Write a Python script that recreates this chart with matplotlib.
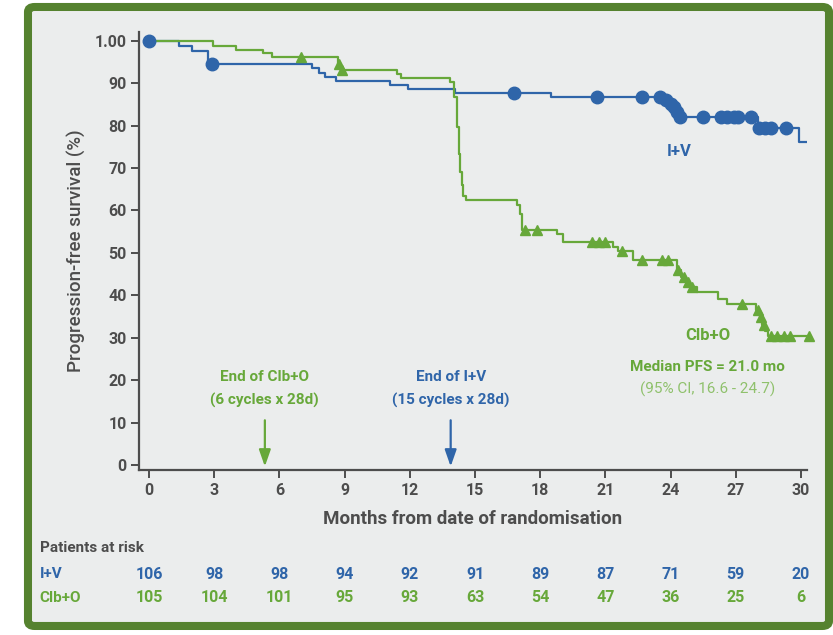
import numpy as np
import matplotlib
matplotlib.use('Agg')
import matplotlib.pyplot as plt
from matplotlib.patches import FancyBboxPatch

# colours
BLUE = '#2f65a9'
GREEN = '#67a83a'
LIGHT_GREEN = '#8fc16c'
GREY = '#4d4d4d'

# I+V (blue) Kaplan-Meier steps
iv_t = [0, 1.4, 2.0, 2.7, 7.5, 7.8, 8.1, 8.6, 11.1, 11.9, 14.1, 18.5, 23.7, 23.95, 24.1, 24.25, 24.4, 28.0, 29.9, 30.6]
iv_s = [100, 98.8, 97.5, 94.4, 93.5, 92.5, 91.5, 90.6, 89.6, 88.6, 87.6, 86.8, 86.0, 85.2, 84.3, 83.2, 82.0, 79.4, 76.1, 76.1]
iv_cens_t = [0, 2.9, 16.8, 20.6, 22.7, 23.5, 23.8, 24.0, 24.15, 24.3, 24.45, 25.5, 26.3, 26.6, 26.9, 27.1, 27.7, 28.05, 28.35, 28.6, 29.3]
iv_cens_s = [100, 94.4, 87.6, 86.8, 86.8, 86.8, 86.0, 85.2, 84.3, 83.2, 82.0, 82.0, 82.0, 82.0, 82.0, 82.0, 82.0, 79.4, 79.4, 79.4, 79.4]

# Clb+O (green) Kaplan-Meier steps
co_t = [0, 2.95, 4.0, 5.25, 5.65, 8.7, 8.85, 11.4, 11.6, 13.85, 14.05, 14.15, 14.25, 14.3, 14.4, 14.45, 14.6,
        16.95, 17.05, 17.15, 18.75, 19.05, 21.35, 21.6, 22.25, 24.3, 24.5, 24.7, 24.9, 25.2, 26.2, 26.6,
        27.95, 28.1, 28.2, 28.35, 28.5, 30.7]
co_s = [100, 98.8, 97.8, 97.0, 96.2, 94.5, 93.1, 92.2, 91.1, 90.2, 86.7, 79.6, 73.3, 69.0, 65.9, 63.5, 62.4,
        61.2, 59.2, 55.3, 54.5, 52.5, 51.4, 50.5, 48.2, 45.9, 44.3, 43.1, 41.9, 40.8, 39.2, 38.0,
        36.5, 34.9, 32.9, 31.5, 30.3, 30.3]
co_cens_t = [7.0, 8.75, 8.9, 17.3, 17.85, 20.4, 20.7, 21.0, 21.75, 22.67, 23.6, 23.9, 24.35, 24.6, 24.8, 25.0,
             27.3, 28.0, 28.15, 28.3, 28.6, 28.9, 29.2, 29.5, 30.35]
co_cens_s = [96.2, 94.5, 93.1, 55.3, 55.3, 52.5, 52.5, 52.5, 50.5, 48.2, 48.2, 48.2, 45.9, 44.3, 43.1, 41.9,
             38.0, 36.5, 34.9, 32.9, 30.3, 30.3, 30.3, 30.3, 30.3]

# patients at risk
risk_months = [0, 3, 6, 9, 12, 15, 18, 21, 24, 27, 30]
risk_iv = [106, 98, 98, 94, 92, 91, 89, 87, 71, 59, 20]
risk_co = [105, 104, 101, 95, 93, 63, 54, 47, 36, 25, 6]

y_ticks = [0, 10, 20, 30, 40, 50, 60, 70, 80, 90, 100]
y_labels = ['0', '10', '20', '30', '40', '50', '60', '70', '80', '90', '1.00']

plt.rcParams['font.family'] = ['Roboto', 'DejaVu Sans']

fig = plt.figure(figsize=(8.33, 6.35), dpi=100)
fig.patch.set_facecolor('white')

# green frame around everything
frame = FancyBboxPatch((0.0336, 0.0142), 0.9616, 0.9748, boxstyle='round,pad=0,rounding_size=0.008',
                       transform=fig.transFigure, facecolor='#ebeded', edgecolor='#55822f', linewidth=5.8, zorder=-5)
fig.patches.append(frame)

ax = fig.add_axes([0.1669, 0.2598, 0.802, 0.6898])
ax.set_facecolor('none')
ax.set_zorder(2)

ax.plot(iv_t, iv_s, drawstyle='steps-post', color=BLUE, lw=1.6)
ax.plot(co_t, co_s, drawstyle='steps-post', color=GREEN, lw=1.6)
ax.plot(iv_cens_t, iv_cens_s, 'o', color=BLUE, ms=9, clip_on=False, zorder=5)
ax.plot(co_cens_t, co_cens_s, '^', color=GREEN, ms=7, clip_on=False, zorder=5)

ax.set_xlim(-0.46, 30.28)
ax.set_ylim(-1.18, 102.05)
ax.set_xticks(risk_months)
ax.set_yticks(y_ticks)
ax.set_yticklabels(y_labels)
for s in ['top', 'right']:
    ax.spines[s].set_visible(False)
for s in ['left', 'bottom']:
    ax.spines[s].set_color(GREY)
    ax.spines[s].set_linewidth(1.6)
ax.tick_params(axis='both', direction='out', length=6, width=1.4, color=GREY,
               labelcolor=GREY, labelsize=11.5, pad=3)
for lab in ax.get_xticklabels() + ax.get_yticklabels():
    lab.set_fontweight('bold')

ax.set_xlabel('Months from date of randomisation', fontsize=13.5, fontweight='bold', color=GREY, labelpad=9)
ax.set_ylabel('Progression-free survival (%)', fontsize=13.5, fontweight='medium', color=GREY, labelpad=6)

# treatment end arrows
ax.text(5.33, 20.7, 'End of Clb+O', color=GREEN, fontsize=11, fontweight='bold', ha='center', va='center')
ax.text(5.33, 15.3, '(6 cycles x 28d)', color=GREEN, fontsize=11, fontweight='bold', ha='center', va='center')
ax.annotate('', xy=(5.33, -1.0), xytext=(5.33, 11.2),
            arrowprops=dict(arrowstyle='-|>,head_width=0.35,head_length=1.0', color=GREEN, lw=1.6))
ax.text(13.88, 20.7, 'End of I+V', color=BLUE, fontsize=11, fontweight='bold', ha='center', va='center')
ax.text(13.88, 15.3, '(15 cycles x 28d)', color=BLUE, fontsize=11, fontweight='bold', ha='center', va='center')
ax.annotate('', xy=(13.88, -1.0), xytext=(13.88, 11.2),
            arrowprops=dict(arrowstyle='-|>,head_width=0.35,head_length=1.0', color=BLUE, lw=1.6))

# curve labels
ax.text(24.4, 73.8, 'I+V', color=BLUE, fontsize=12, fontweight='bold', ha='center', va='center')
ax.text(25.7, 30.6, 'Clb+O', color=GREEN, fontsize=12, fontweight='bold', ha='center', va='center')
ax.text(25.7, 23.1, 'Median PFS = 21.0 mo', color=GREEN, fontsize=11, fontweight='bold', ha='center', va='center')
ax.text(25.7, 17.9, '(95% CI, 16.6 - 24.7)', color=LIGHT_GREEN, fontsize=11, ha='center', va='center')

# patients at risk table
ax.text(-5.03, -19.6, 'Patients at risk', color=GREY, fontsize=11, fontweight='bold', ha='left', va='center', clip_on=False)
ax.text(-5.03, -25.7, 'I+V', color=BLUE, fontsize=11, fontweight='bold', ha='left', va='center', clip_on=False)
ax.text(-5.03, -31.3, 'Clb+O', color=GREEN, fontsize=11, fontweight='bold', ha='left', va='center', clip_on=False)
for m, a, b in zip(risk_months, risk_iv, risk_co):
    ax.text(m, -25.7, str(a), color=BLUE, fontsize=11.5, fontweight='bold', ha='center', va='center', clip_on=False)
    ax.text(m, -31.3, str(b), color=GREEN, fontsize=11.5, fontweight='bold', ha='center', va='center', clip_on=False)

fig.savefig('out.png', dpi=100)
